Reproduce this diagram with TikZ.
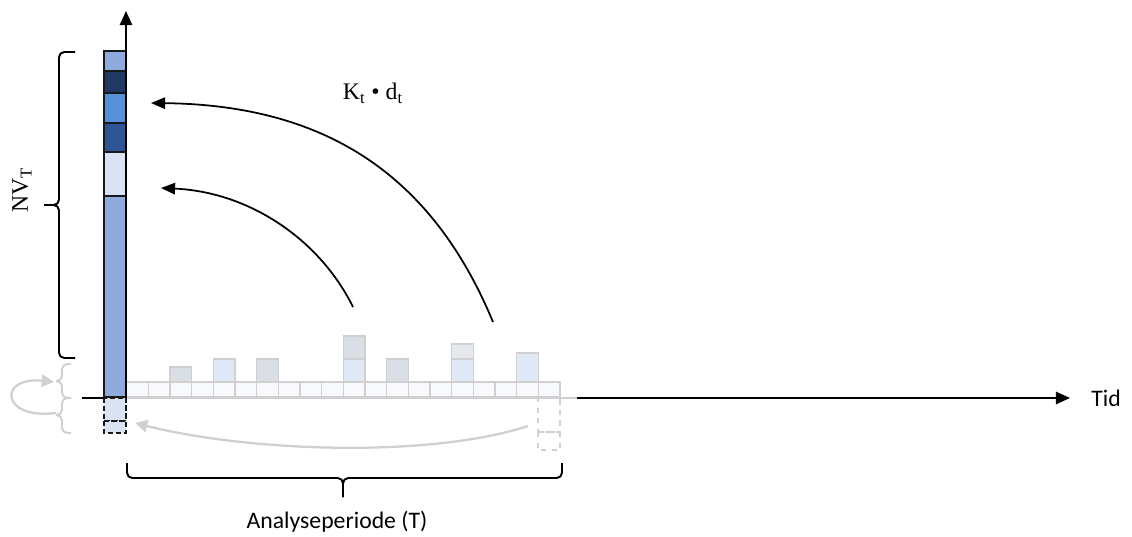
\documentclass[tikz,border=0pt]{standalone}
\usepackage{fontspec}
\setmainfont{Carlito}
\newfontfamily\capserif{Liberation Serif}
\usetikzlibrary{arrows.meta,calc}
\definecolor{NVMid}{HTML}{8FAADC}
\definecolor{NVNavy}{HTML}{203864}
\definecolor{NVBright}{HTML}{5590D8}
\definecolor{NVDeep}{HTML}{2F5597}
\definecolor{NVPale}{HTML}{DAE3F3}
\definecolor{FadeGrey}{HTML}{D0D0D0}
\definecolor{FadeBar}{HTML}{DADFE6}
\definecolor{FadeBlue}{HTML}{E0EAF6}
\definecolor{FadeCell}{HTML}{F7F9FC}

\begin{document}
\begin{tikzpicture}[x=0.02cm,y=-0.02cm,
  seg/.style={draw=black!90,line width=1.1pt},
  ghost/.style={draw=FadeGrey,line width=0.8pt},
  axis/.style={-{Triangle[length=8pt,width=7pt]},line width=1.1pt},
  flow/.style={-{Triangle[length=8pt,width=6.5pt]},line width=1pt},
  bracket/.style={line width=1.1pt,rounded corners=3pt},
  lbl/.style={font=\fontsize{13.5}{16}\selectfont},
  serlbl/.style={font=\capserif\fontsize{13.5}{16}\selectfont}
]
\useasboundingbox (0,0) rectangle (1132,537);

% faded time row and cash-flow bars
\foreach \i in {0,...,19}
  \draw[ghost,fill=FadeCell] ({126.7+21.67*\i},382) rectangle ({126.7+21.67*(\i+1)},397);
\foreach \i/\top/\col in {2/367/FadeBar,4/359/FadeBlue,6/359/FadeBar,10/359/FadeBlue,
    12/359/FadeBar,15/359/FadeBlue,18/353/FadeBlue}
  \draw[ghost,fill=\col] ({126.7+21.67*\i},\top) rectangle ({126.7+21.67*(\i+1)},382);
\draw[ghost,fill=FadeBar] ({126.7+21.67*10},336) rectangle ({126.7+21.67*11},359);
\draw[ghost,fill=FadeBar!70] ({126.7+21.67*15},344) rectangle ({126.7+21.67*16},359);
\draw[ghost,dashed] (538,397) rectangle (560,432);
\draw[ghost,dashed] (538,432) rectangle (560,450);

% axes
\coordinate (origin) at (126,398);
\coordinate (yTop) at (126,11);
\coordinate (tStart) at (577,398);
\coordinate (tEnd) at (1070,398);
\draw[FadeGrey,line width=1pt] (origin) -- (tStart);
\draw[line width=1.1pt] (82,398) -- (104,398);

% net value column
\foreach \ya/\yb/\col in {51/71/NVMid,71/93/NVNavy,93/123/NVBright,
    123/152/NVDeep,152/196/NVPale,196/397/NVMid}
  \draw[seg,fill=\col] (104,\ya) rectangle (126,\yb);
\draw[seg,fill=NVPale,dash pattern=on 3pt off 1.5pt] (104,398) rectangle (126,421);
\draw[seg,fill=NVPale,dash pattern=on 3pt off 1.5pt] (104,421) rectangle (126,433);

\draw[axis] (origin) -- (yTop);
\draw[axis] (tStart) -- (tEnd);
\node[lbl] (tid) at (1106,398) {Tid};

% discounted flows
\coordinate (farBar) at (493,322);
\coordinate (farTip) at (151,103);
\coordinate (nearBar) at (353,307);
\coordinate (nearTip) at (161,188);
\draw[flow] (farBar) .. controls (430,170) and (320,105) .. (farTip);
\draw[flow] (nearBar) .. controls (320,240) and (250,192) .. (nearTip);
\node[serlbl] (rate) at (373,93) {K\textsubscript{t} • d\textsubscript{t}};

% residual value carried back
\coordinate (resStart) at (528,426);
\coordinate (resTip) at (135,423);
\draw[FadeGrey,line width=1.3pt,-{Triangle[length=7pt,width=7pt]}]
  (resStart) .. controls (430,458) and (250,452) .. (resTip);

% brackets
\draw[bracket] (75,52) -| (59,205) -- (44,205);
\draw[bracket] (44,205) -- (59,205) |- (75,358);
\node[serlbl,rotate=90] (nv) at (22,190) {NV\textsubscript{T}};

\draw[bracket] (127,463) |- (343,478) -- (343,497);
\draw[bracket] (343,497) -- (343,478) -| (562,463);
\node[lbl] (period) at (337,522) {Analyseperiode (T)};

\draw[bracket,FadeGrey] (71,364) -| (62,381) -- (56,381);
\draw[bracket,FadeGrey] (56,381) -- (62,381) |- (71,398);
\draw[bracket,FadeGrey] (71,398) -| (62,415) -- (56,415);
\draw[bracket,FadeGrey] (56,415) -- (62,415) |- (71,433);
\coordinate (loopStart) at (56,413);
\coordinate (loopTip) at (54,382);
\draw[FadeGrey,line width=1.3pt,-{Triangle[length=7pt,width=7pt]}]
  (loopStart) .. controls (0,420) and (-2,376) .. (loopTip);
\end{tikzpicture}
\end{document}
